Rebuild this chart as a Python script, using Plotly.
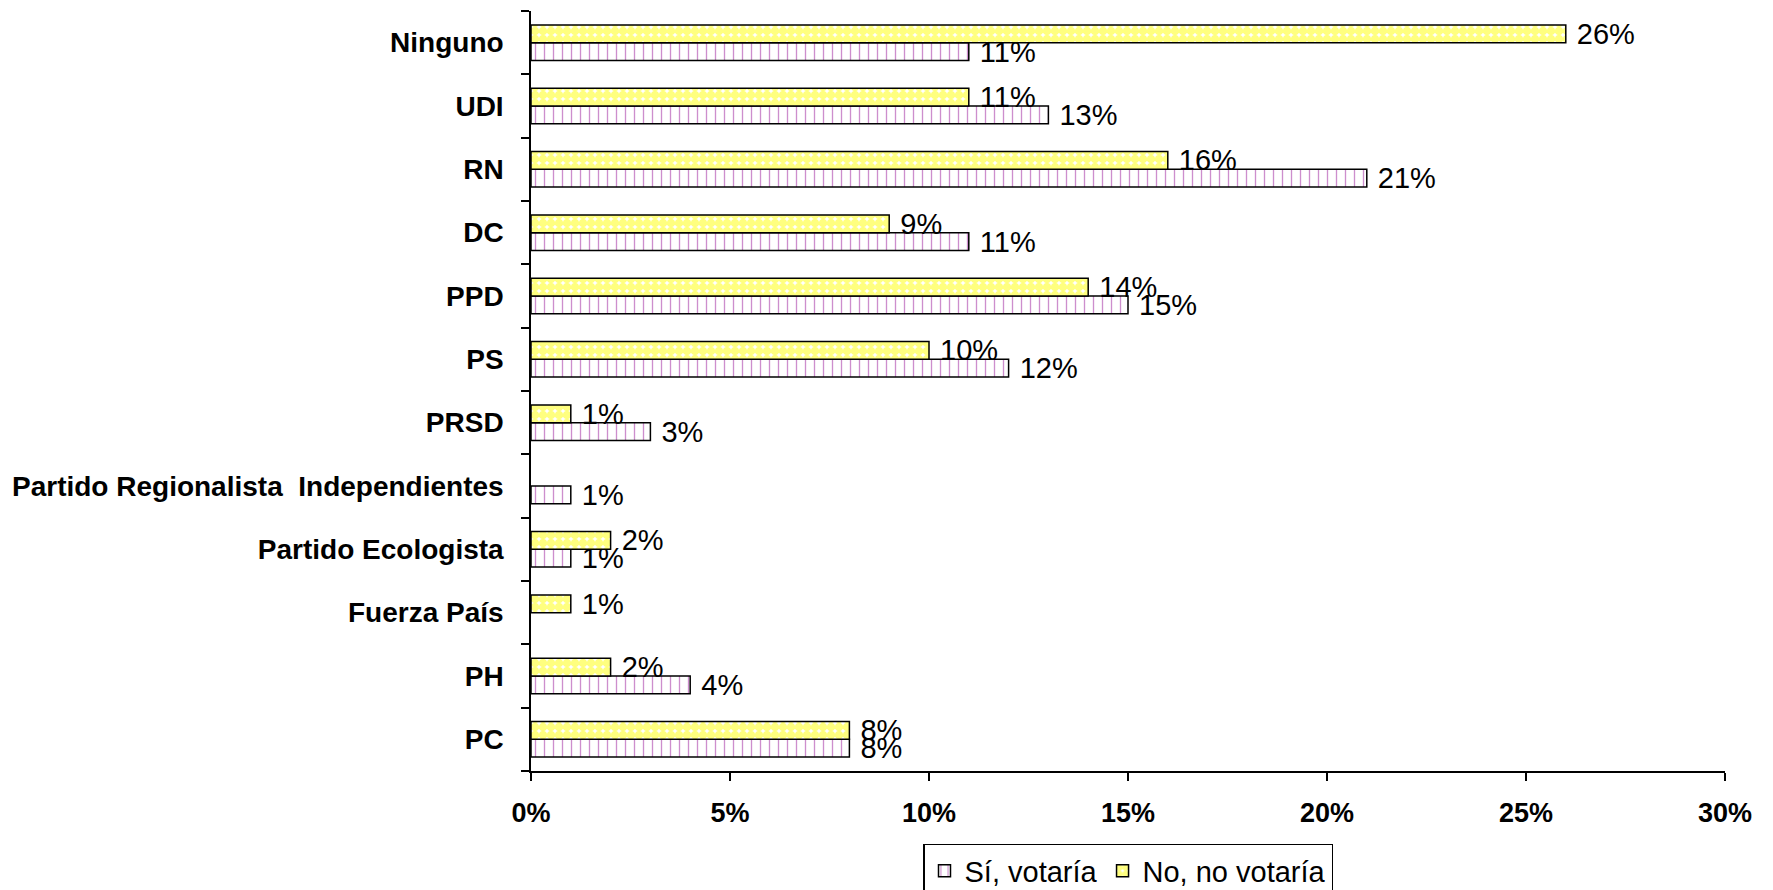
import plotly.graph_objects as go

categories = ["PC", "PH", "Fuerza País", "Partido Ecologista",
              "Partido Regionalista  Independientes", "PRSD", "PS", "PPD",
              "DC", "RN", "UDI", "Ninguno"]
si_votaria = [8, 4, None, 1, 1, 3, 12, 15, 11, 21, 13, 11]
no_votaria = [8, 2, 1, 2, None, 1, 10, 14, 9, 16, 11, 26]
x_ticks = [0, 5, 10, 15, 20, 25, 30]

FONT = "Liberation Sans, Arial, sans-serif"


def frac(vals):
    return [None if v is None else v / 100 for v in vals]


def labels(vals):
    return ["" if v is None else f"\u00a0{v}%" for v in vals]


fig = go.Figure()
fig.add_trace(go.Bar(
    name="Sí, votaría", y=categories, x=frac(si_votaria), orientation="h",
    text=labels(si_votaria), textposition="outside", cliponaxis=False,
    textfont=dict(size=29, color="black", family=FONT),
    marker=dict(color="white", line=dict(color="black", width=1.5),
                pattern=dict(shape="|", fgcolor="#9b1d9b", bgcolor="white",
                             size=9, solidity=0.15, fillmode="overlay")),
))
fig.add_trace(go.Bar(
    name="No, no votaría", y=categories, x=frac(no_votaria), orientation="h",
    text=labels(no_votaria), textposition="outside", cliponaxis=False,
    textfont=dict(size=29, color="black", family=FONT),
    marker=dict(color="white", line=dict(color="black", width=1.5),
                pattern=dict(shape=".", fgcolor="#ffff00", bgcolor="white",
                             size=8, solidity=0.8, fillmode="overlay")),
))

fig.update_layout(
    width=1765, height=882,
    barmode="group", bargap=0.44, bargroupgap=0,
    plot_bgcolor="white", paper_bgcolor="white",
    margin=dict(l=523, r=48, t=3, b=119, autoexpand=False),
    font=dict(family=FONT, color="black"),
    showlegend=True,
    legend=dict(orientation="h", x=0.5, xanchor="center", y=-0.096, yanchor="top",
                bordercolor="black", borderwidth=1.5,
                font=dict(size=29, family=FONT),
                traceorder="normal", tracegroupgap=0, itemwidth=30),
)
fig.update_xaxes(
    range=[0, 0.30], tickvals=[t / 100 for t in x_ticks],
    ticktext=[f"{t}%" for t in x_ticks],
    showline=True, linecolor="black", linewidth=1.5,
    ticks="outside", ticklen=8, tickcolor="black", tickwidth=1.5,
    showgrid=False, zeroline=False,
    tickfont=dict(size=27, family=FONT, weight="bold"),
    ticklabelstandoff=9,
)
fig.update_yaxes(
    type="category", categoryorder="array", categoryarray=categories,
    showline=True, linecolor="black", linewidth=1.5,
    ticks="outside", ticklen=8, tickcolor="black", tickwidth=1.5,
    tickson="boundaries", showgrid=False, zeroline=False,
    tickfont=dict(size=28, family=FONT, weight="bold"),
    ticklabelstandoff=20,
)
fig.update_traces(constraintext="none")

fig.write_html("out.html")
